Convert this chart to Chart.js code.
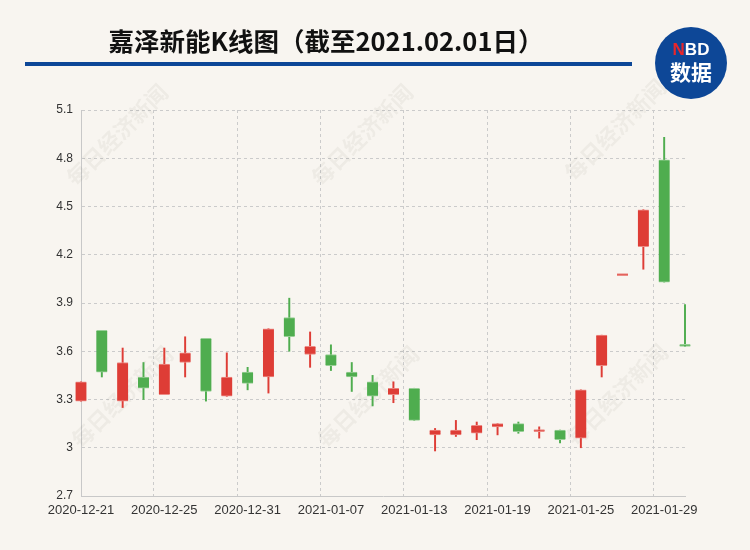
<!DOCTYPE html>
<html>
<head>
<meta charset="utf-8">
<script src="https://cdn.jsdelivr.net/npm/chart.js@4"></script>
<style>
  html, body { margin: 0; padding: 0; background: #f8f5f0; }
  #wrap { position: relative; width: 750px; height: 550px; overflow: hidden; }
  #klineChart { position: absolute; left: 0; top: 0; }
  #title {
    position: absolute; left: 0; top: 22px; width: 652px; text-align: center;
    font: bold 25.5px "Noto Sans CJK SC", sans-serif; color: #111; line-height: 36px;
  }
  #rule { position: absolute; left: 25px; top: 62px; width: 607px; height: 4px; background: #0d4797; }
  #logo {
    position: absolute; left: 655px; top: 27px; width: 72px; height: 72px; border-radius: 50%;
    background: #0d4797; color: #fff; text-align: center; font-family: "Noto Sans CJK SC", sans-serif; font-weight: bold;
  }
  #logo .nbd { position: absolute; left: 0; top: 13px; width: 72px; font: bold 17px "Liberation Sans", sans-serif; line-height: 19px; }
  #logo .nbd span { color: #e8262b; }
  #logo .sj { position: absolute; left: 0; top: 32px; width: 72px; font-size: 21px; line-height: 25px; }
</style>
</head>
<body>
<div id="wrap">
  <canvas id="klineChart" width="750" height="550"></canvas>
  <div id="title">嘉泽新能K线图（截至2021.02.01日）</div>
  <div id="rule"></div>
  <div id="logo"><div class="nbd"><span>N</span>BD</div><div class="sj">数据</div></div>
</div>
<script>
// 交易日
const dates = [
    '2020-12-21', '2020-12-22', '2020-12-23', '2020-12-24', '2020-12-25',
    '2020-12-28', '2020-12-29', '2020-12-30', '2020-12-31', '2021-01-04',
    '2021-01-05', '2021-01-06', '2021-01-07', '2021-01-08', '2021-01-11',
    '2021-01-12', '2021-01-13', '2021-01-14', '2021-01-15', '2021-01-18',
    '2021-01-19', '2021-01-20', '2021-01-21', '2021-01-22', '2021-01-25',
    '2021-01-26', '2021-01-27', '2021-01-28', '2021-01-29', '2021-02-01'
];
const openPrices  = [3.29, 3.73, 3.29, 3.44, 3.33, 3.53, 3.68, 3.32, 3.47, 3.44,
                     3.81, 3.58, 3.58, 3.47, 3.41, 3.33, 3.37, 3.08, 3.08, 3.09,
                     3.13, 3.15, 3.10, 3.11, 3.06, 3.51, 4.07, 4.25, 4.79, 3.63];
const closePrices = [3.41, 3.47, 3.53, 3.37, 3.52, 3.59, 3.35, 3.44, 3.40, 3.74,
                     3.69, 3.63, 3.51, 3.44, 3.32, 3.37, 3.17, 3.11, 3.11, 3.14,
                     3.15, 3.10, 3.11, 3.05, 3.36, 3.70, 4.07, 4.48, 4.03, 3.63];
const highPrices  = [3.41, 3.73, 3.62, 3.53, 3.62, 3.69, 3.68, 3.59, 3.50, 3.74,
                     3.93, 3.72, 3.64, 3.53, 3.45, 3.41, 3.37, 3.12, 3.17, 3.16,
                     3.15, 3.16, 3.13, 3.11, 3.36, 3.70, 4.07, 4.48, 4.93, 3.89];
const lowPrices   = [3.29, 3.44, 3.25, 3.30, 3.33, 3.44, 3.29, 3.32, 3.36, 3.34,
                     3.60, 3.50, 3.48, 3.35, 3.26, 3.28, 3.17, 2.98, 3.07, 3.05,
                     3.08, 3.09, 3.06, 3.03, 3.00, 3.44, 4.07, 4.11, 4.03, 3.63];
const yTicks = [2.7, 3, 3.3, 3.6, 3.9, 4.2, 4.5, 4.8, 5.1];

const RED = '#de3d36';
const GREEN = '#4fad4f';

// 涨红跌绿, 平盘时和前一日收盘比
function isUp(i) {
    if (closePrices[i] !== openPrices[i]) return closePrices[i] > openPrices[i];
    return i === 0 || closePrices[i] >= closePrices[i - 1];
}
const fillColors = dates.map((d, i) => isUp(i) ? RED : GREEN);
const edgeColors = dates.map((d, i) => isUp(i) ? '#ec8c86' : '#98cf96');

// 水印
const watermark = {
    id: 'watermark',
    beforeDatasetsDraw(chart) {
        const ctx = chart.ctx;
        const spots = [[117, 135], [362, 135], [615, 130], [122, 397], [368, 397], [617, 395]];
        ctx.save();
        ctx.font = 'bold 22px "Noto Sans CJK SC"';
        ctx.fillStyle = 'rgba(60, 50, 40, 0.05)';
        ctx.textAlign = 'center';
        ctx.textBaseline = 'middle';
        spots.forEach(([x, y]) => {
            ctx.save();
            ctx.translate(x, y);
            ctx.rotate(-Math.PI / 4);
            ctx.fillText('每日经济新闻', 0, 0);
            ctx.restore();
        });
        ctx.restore();
    }
};

const ctx = document.getElementById('klineChart').getContext('2d');
new Chart(ctx, {
    type: 'bar',
    data: {
        labels: dates,
        datasets: [
            {
                label: 'body',
                data: dates.map((d, i) => [openPrices[i], closePrices[i]]),
                backgroundColor: fillColors,
                borderColor: edgeColors,
                borderWidth: { top: 1, bottom: 1, left: 0, right: 0 },
                borderSkipped: false,
                barThickness: 11,
                minBarLength: 2,
                grouped: false,
                clip: false
            },
            {
                label: 'wick',
                data: dates.map((d, i) => [lowPrices[i], highPrices[i]]),
                backgroundColor: fillColors,
                borderWidth: 0,
                barThickness: 1.3,
                grouped: false,
                clip: false
            }
        ]
    },
    options: {
        responsive: false,
        animation: false,
        events: [],
        layout: { padding: { left: 0, right: 65, top: 110, bottom: 0 } },
        plugins: {
            legend: { display: false },
            tooltip: { enabled: false }
        },
        scales: {
            x: {
                offset: false,
                border: { display: true, color: '#c8c8c8', width: 1, dash: [3, 3] },
                grid: {
                    drawTicks: false,
                    color: c => (c.index % 4 === 0 && c.index > 0) ? '#cbcbcb' : 'transparent',
                    lineWidth: 1
                },
                ticks: {
                    autoSkip: false,
                    maxRotation: 0,
                    padding: 7,
                    color: '#333',
                    font: { family: 'Liberation Sans', size: 13 },
                    callback: function(v, i) { return i % 4 === 0 ? dates[i] : ''; }
                },
                afterFit: s => { s.height = 54; }
            },
            y: {
                min: 2.7,
                max: 5.1,
                afterBuildTicks: s => { s.ticks = yTicks.map(v => ({ value: v })); },
                border: { display: true, color: '#c8c8c8', width: 1, dash: [3, 3] },
                grid: {
                    drawTicks: false,
                    color: c => c.tick && c.tick.value === 2.7 ? 'transparent' : '#cbcbcb'
                },
                ticks: {
                    padding: 8,
                    color: '#333',
                    font: { family: 'Liberation Sans', size: 12 },
                    callback: v => String(Math.round(v * 10) / 10)
                },
                afterFit: s => { s.width = 81; }
            }
        }
    },
    plugins: [watermark]
});
</script>
</body>
</html>
